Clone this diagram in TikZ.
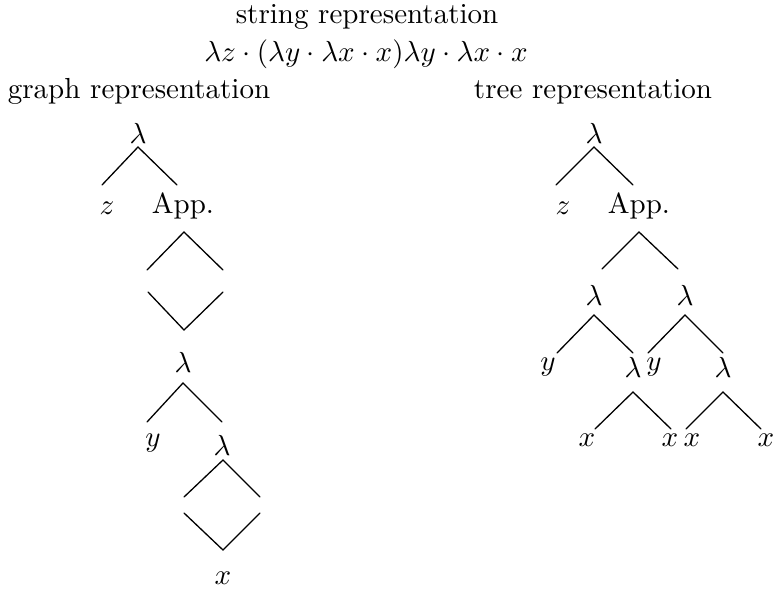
\documentclass[tikz,border=0pt]{standalone}
\usepackage{graphicx}
\usetikzlibrary{calc}
\newcommand\sk[1]{\scalebox{2.9}{#1}}
\begin{document}
\begin{tikzpicture}[x=1pt,y=-1pt,
  every node/.style={inner sep=0pt},
  edge/.style={line width=1.3pt, line cap=round}]
\useasboundingbox (0,0) rectangle (775,592);
% headings
\node[anchor=base] (title) at (367,23) {\sk{string representation}};
\node[anchor=base] (formula) at (366,61) {\sk{$\lambda z\cdot(\lambda y\cdot\lambda x\cdot x)\lambda y\cdot\lambda x\cdot x$}};
\node[anchor=base] (graph) at (139,98) {\sk{graph representation}};
\node[anchor=base] (tree) at (593,98) {\sk{tree representation}};
% ---- graph representation ----
\node (g1) at (138,133) {\sk{$\lambda$}};
\node (gz) at (107,208) {\sk{$z$}};
\node (gapp) at (183,206) {\sk{App.}};
\node (g2) at (183,362) {\sk{$\lambda$}};
\node (gy) at (153,443) {\sk{$y$}};
\node (g3) at (222,445) {\sk{$\lambda$}};
\node (gx) at (223,578) {\sk{$x$}};
\draw[edge] ($(g1)+(-36,52)$) -- ($(g1)+(0,14)$) -- ($(g1)+(39,52)$);
% diamond between App. and lambda
\draw[edge] ($(gapp)+(-36,64)$) -- ($(gapp)+(1,26)$) -- ($(gapp)+(40,64)$);
\draw[edge] ($(g2)+(-35,-70)$) -- ($(g2)+(1,-32)$) -- ($(g2)+(40,-70)$);
\draw[edge] ($(g2)+(-36,60)$) -- ($(g2)+(0,21)$) -- ($(g2)+(39,60)$);
% diamond between lambda and x
\draw[edge] ($(g3)+(-38,52)$) -- ($(g3)+(1,15)$) -- ($(g3)+(38,52)$);
\draw[edge] ($(gx)+(-39,-65)$) -- ($(gx)+(0,-28)$) -- ($(gx)+(37,-65)$);
% ---- tree representation ----
\node (t1) at (594,133) {\sk{$\lambda$}};
\node (tz) at (563,208) {\sk{$z$}};
\node (tapp) at (639,206) {\sk{App.}};
\node (tl) at (594,295) {\sk{$\lambda$}};
\node (tr) at (685,295) {\sk{$\lambda$}};
\node (ty1) at (548,367) {\sk{$y$}};
\node (tl2) at (633,367) {\sk{$\lambda$}};
\node (ty2) at (654,367) {\sk{$y$}};
\node (tr2) at (723,367) {\sk{$\lambda$}};
\node (tx1) at (587,440) {\sk{$x$}};
\node (tx2) at (670,440) {\sk{$x$}};
\node (tx3) at (692,440) {\sk{$x$}};
\node (tx4) at (766,440) {\sk{$x$}};
\draw[edge] ($(t1)+(-38,52)$) -- ($(t1)+(0,14)$) -- ($(t1)+(39,52)$);
\draw[edge] ($(tapp)+(-37,63)$) -- ($(tapp)+(0,26)$) -- ($(tapp)+(39,63)$);
\draw[edge] ($(tl)+(-37,58)$) -- ($(tl)+(0,20)$) -- ($(tl)+(39,58)$);
\draw[edge] ($(tr)+(-37,58)$) -- ($(tr)+(0,20)$) -- ($(tr)+(38,58)$);
\draw[edge] ($(tl2)+(-38,62)$) -- ($(tl2)+(0,25)$) -- ($(tl2)+(38,62)$);
\draw[edge] ($(tr2)+(-37,62)$) -- ($(tr2)+(0,25)$) -- ($(tr2)+(38,62)$);
\end{tikzpicture}
\end{document}
